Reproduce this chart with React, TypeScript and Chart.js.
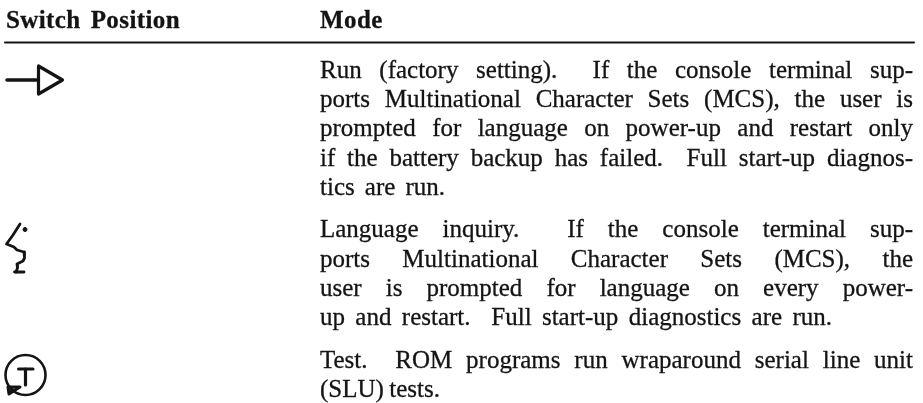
import React, { useEffect, useRef } from "react";
import { Chart, registerables } from "chart.js";

Chart.register(...registerables);

const headers = ["Switch Position", "Mode"];
const row1 = [
  "Run (factory setting).  If the console terminal sup-",
  "ports Multinational Character Sets (MCS), the user is",
  "prompted for language on power-up and restart only",
  "if the battery backup has failed.  Full start-up diagnos-",
  "tics are run.",
];
const row2 = [
  "Language inquiry.  If the console terminal sup-",
  "ports Multinational Character Sets (MCS), the",
  "user is prompted for language on every power-",
  "up and restart.  Full start-up diagnostics are run.",
];
const row3 = [
  "Test.  ROM programs run wraparound serial line unit",
  "(SLU) tests.",
];

const ruleX = [5, 914];
const ruleY = [42.5, 42.5];
const arrowStem = [[7, 80], [38, 80]];
const arrowHead = [[38.5, 66], [62.5, 80], [38.5, 94], [38.5, 66]];
const langMark = [[20, 224], [13, 235], [6.5, 244], [14, 247], [17, 250], [24, 252], [24.5, 258], [23, 261], [17, 264], [17.5, 268], [16, 272]];
const langFoot = [[14.5, 272], [24, 272]];
const langDot = [[25, 229.5]];
const testRing = [[25.5, 375]];
const testBar = [[18.5, 369], [33, 369]];
const testStem = [[25.5, 369], [25.5, 385]];
const testArrow = [[9, 394], [8, 387], [20, 387], [9, 394], [12, 389]];

const BODY_FONT = '25px "Liberation Serif"';
const HEAD_FONT = 'bold 25px "Liberation Serif"';
const INK = "#141414";

const pts = (a: number[][]) => a.map(([x, y]) => ({ x, y }));

function lineSet(a: number[][], width: number) {
  return {
    data: pts(a),
    showLine: true,
    borderColor: INK,
    backgroundColor: INK,
    borderWidth: width,
    pointRadius: 0,
    borderCapStyle: "round",
    borderJoinStyle: "round",
    tension: 0,
    clip: false,
  };
}

const bodyLayout: [string[], number[], number[]][] = [
  [row1, [77.5, 107, 136, 165.5, 195], [913, 913, 913, 913, 445]],
  [row2, [237, 266.5, 296, 325], [913, 913, 913, 832]],
  [row3, [368, 397], [913, 440]],
];
const LEFT = 320;

const textPlugin = {
  id: "tableText",
  afterDatasetsDraw(chart: any) {
    const { ctx, scales } = chart;
    const X = (v: number) => scales.x.getPixelForValue(v);
    const Y = (v: number) => scales.y.getPixelForValue(v);
    const justified = (line: string, left: number, right: number, y: number) => {
      const words = line.split(" ");
      const total = words.reduce((s, w) => s + ctx.measureText(w).width, 0);
      const gap = words.length > 1 ? (X(right) - X(left) - total) / (words.length - 1) : 0;
      let x = X(left);
      for (const w of words) {
        if (w) {
          ctx.fillText(w, x, Y(y));
          ctx.strokeText(w, x, Y(y));
        }
        x += ctx.measureText(w).width + gap;
      }
    };
    ctx.save();
    ctx.fillStyle = INK;
    ctx.strokeStyle = INK;
    ctx.lineWidth = 0.3;
    ctx.textBaseline = "alphabetic";
    ctx.textAlign = "left";

    ctx.font = HEAD_FONT;
    ctx.letterSpacing = "0.4px";
    justified(headers[0], 6, 180, 28);
    justified(headers[1], LEFT, 380, 27.5);
    ctx.letterSpacing = "0px";

    ctx.font = BODY_FONT;
    for (const [lines, ys, rights] of bodyLayout) {
      lines.forEach((line, i) => justified(line, LEFT, rights[i], ys[i]));
    }
    ctx.restore();
  },
};

export default function App() {
  const ref = useRef<HTMLCanvasElement>(null);
  useEffect(() => {
    document.body.style.margin = "0";
    document.body.style.background = "#fff";
    const chart = new Chart(ref.current!, {
      type: "scatter",
      data: {
        datasets: [
          lineSet([[ruleX[0], ruleY[0]], [ruleX[1], ruleY[1]]], 2),
          lineSet(arrowStem, 3.4),
          lineSet(arrowHead, 3.2),
          lineSet(langMark, 2.8),
          lineSet(langFoot, 2.8),
          { ...lineSet(langDot, 1), pointRadius: 2, showLine: false },
          {
            ...lineSet(testRing, 2.6),
            showLine: false,
            pointRadius: 20,
            backgroundColor: "transparent",
          },
          lineSet(testBar, 3),
          lineSet(testStem, 3.2),
          lineSet(testArrow, 3),
        ] as any,
      },
      options: {
        animation: false,
        responsive: false,
        layout: { padding: 0, autoPadding: false },
        plugins: { legend: { display: false }, tooltip: { enabled: false }, title: { display: false } },
        scales: {
          x: { type: "linear", display: false, min: 0, max: 923 },
          y: { type: "linear", display: false, min: 0, max: 403, reverse: true },
        },
      },
      plugins: [textPlugin],
    });
    return () => chart.destroy();
  }, []);
  return (
    <div style={{ position: "absolute", left: 0, top: 0, width: 923, height: 403, background: "#fff" }}>
      <canvas ref={ref} width={923} height={403} style={{ display: "block" }} />
    </div>
  );
}
